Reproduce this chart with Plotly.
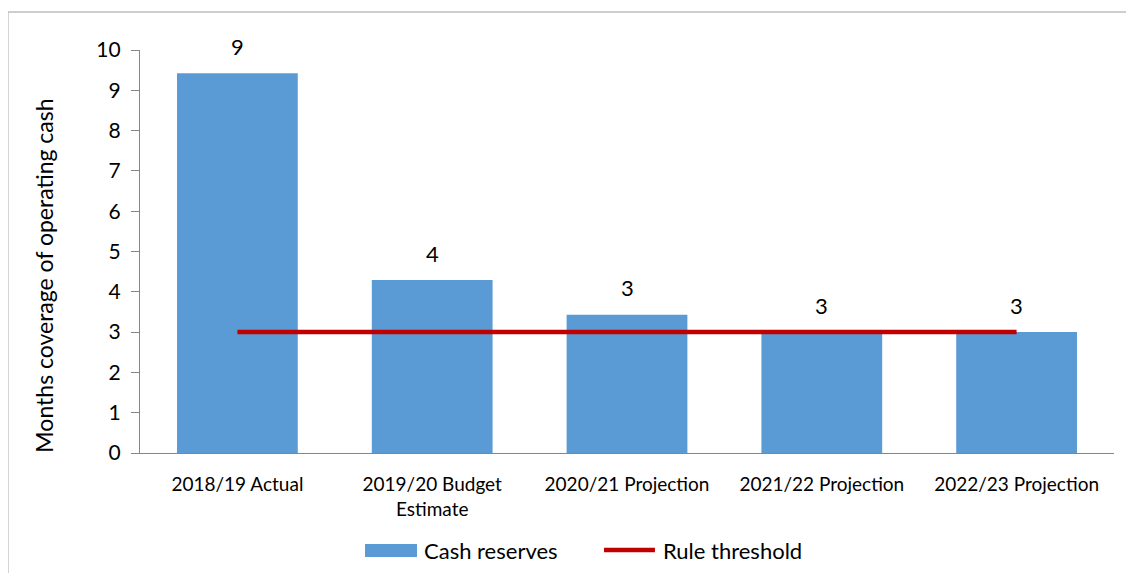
import plotly.graph_objects as go

categories = ["2018/19 Actual", "2019/20 Budget Estimate", "2020/21 Projection",
              "2021/22 Projection", "2022/23 Projection"]
tick_labels = ["2018/19 Actual", "2019/20 Budget<br>Estimate", "2020/21 Projection",
               "2021/22 Projection", "2022/23 Projection"]
cash_reserves = [9.42, 4.29, 3.43, 2.98, 3.0]
rule_threshold = [3, 3, 3, 3, 3]
series_names = ["Cash reserves", "Rule threshold"]
y_title = "Months coverage of operating cash"

FONT = "Lato"
BLUE = "#5B9BD5"
RED = "#C00000"

fig = go.Figure()
fig.add_trace(go.Bar(x=categories, y=cash_reserves, name=series_names[0],
                     marker=dict(color=BLUE, line=dict(width=0))))
fig.add_trace(go.Scatter(x=categories, y=rule_threshold, name=series_names[1],
                         mode="lines", line=dict(color=RED, width=4.5)))

for c, v in zip(categories, cash_reserves):
    fig.add_annotation(x=c, y=v, text=f"{v:.0f}", showarrow=False,
                       yanchor="middle", yshift=27,
                       font=dict(family=FONT, size=22, color="#000000"))

fig.add_annotation(xref="paper", yref="paper", x=-0.0986, y=0.44,
                   text=y_title, textangle=-90,
                   showarrow=False, xanchor="center", yanchor="middle",
                   font=dict(family=FONT, size=23, color="#000000"))

# outer chart border
fig.add_shape(type="rect", xref="paper", yref="paper",
              x0=-0.1355, y0=-0.4, x1=1.1, y1=1.0943,
              line=dict(color="#BFBFBF", width=1.3), fillcolor="rgba(0,0,0,0)", layer="below")

# custom legend
fig.add_shape(type="rect", xref="paper", yref="paper",
              x0=0.231, x1=0.2844, y0=-0.258, y1=-0.2258,
              line=dict(width=0), fillcolor=BLUE)
fig.add_annotation(xref="paper", yref="paper", x=0.2895, y=-0.2407,
                   text=series_names[0], showarrow=False, xanchor="left", yanchor="middle",
                   font=dict(family=FONT, size=22, color="#000000"))
fig.add_shape(type="line", xref="paper", yref="paper",
              x0=0.4764, x1=0.5287, y0=-0.2407, y1=-0.2407,
              line=dict(color=RED, width=4.5))
fig.add_annotation(xref="paper", yref="paper", x=0.5349, y=-0.2407,
                   text=series_names[1], showarrow=False, xanchor="left", yanchor="middle",
                   font=dict(family=FONT, size=22, color="#000000"))

fig.update_layout(
    width=1126, height=565,
    margin=dict(l=132, r=20, t=42, b=120),
    plot_bgcolor="white", paper_bgcolor="white",
    bargap=0.38,
    font=dict(family=FONT, size=19, color="#000000"),
    showlegend=False,
    xaxis=dict(tickmode="array", tickvals=categories, ticktext=tick_labels,
               showline=True, linecolor="#868686", linewidth=1.3, ticks="",
               showgrid=False, tickfont=dict(family=FONT, size=19),
               ticklabelstandoff=14),
    yaxis=dict(range=[0, 10], dtick=1, showline=True, linecolor="#868686", linewidth=1.3,
               ticks="outside", ticklen=8, tickcolor="#868686", tickwidth=1.3,
               showgrid=False, zeroline=False, tickfont=dict(family=FONT, size=21),
               ticklabelstandoff=6),
)

fig.write_html("out.html")
